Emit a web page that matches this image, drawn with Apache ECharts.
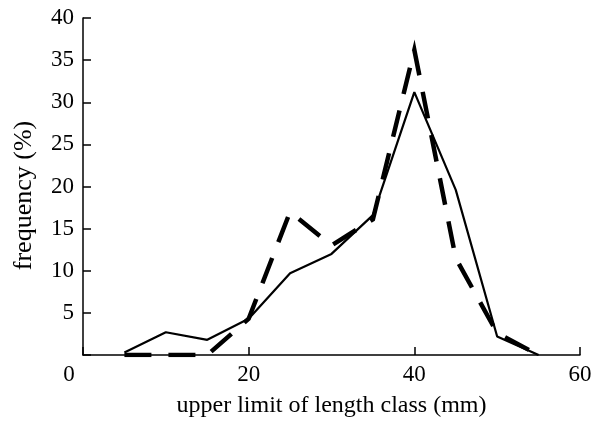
<!DOCTYPE html>
<html>
<head>
<meta charset="utf-8">
<script src="https://cdn.jsdelivr.net/npm/echarts@6/dist/echarts.min.js"></script>
<style>html,body{margin:0;padding:0;background:#fff}#c{width:603px;height:423px}</style>
</head>
<body>
<div id="c"></div>
<script>
const lengthClass = [5, 10, 15, 20, 25, 30, 35, 40, 45, 50, 55];
const solidSeries = [0.3, 2.7, 1.8, 4.3, 9.7, 12.0, 16.6, 31.2, 19.6, 2.2, 0];
const dashedSeries = [0, 0, 0, 4.3, 17.0, 13.0, 16.1, 36.2, 11.5, 2.6, 0];
const xTicks = [0, 20, 40, 60];
const yTicks = [5, 10, 15, 20, 25, 30, 35, 40];

const font = 'Liberation Serif';
const chart = echarts.init(document.getElementById('c'), null, {renderer: 'canvas'});
chart.setOption({
  animation: false,
  backgroundColor: '#fff',
  grid: {left: 83, right: 23, top: 18, bottom: 65, containLabel: false},
  xAxis: {
    type: 'value', min: 0, max: 60, interval: 20,
    name: 'upper limit of length class (mm)',
    nameLocation: 'middle', nameGap: 39,
    nameTextStyle: {fontFamily: font, fontSize: 24, color: '#000'},
    axisLine: {show: true, lineStyle: {color: '#000', width: 1.5}},
    axisTick: {show: true, inside: true, length: 8, lineStyle: {color: '#000', width: 1.5}},
    axisLabel: {
      margin: 8, fontFamily: font, fontSize: 23, color: '#000',
      formatter: v => v === 0 ? '{z|0}' : (xTicks.indexOf(v) >= 0 ? String(v) : ''),
      rich: {z: {fontFamily: font, fontSize: 23, color: '#000', padding: [0, 28, 0, 0]}}
    },
    splitLine: {show: false}
  },
  yAxis: {
    type: 'value', min: 0, max: 40, interval: 5,
    name: 'frequency (%)',
    nameLocation: 'middle', nameGap: 46,
    nameTextStyle: {fontFamily: font, fontSize: 26, color: '#000', padding: [0, 18, 0, 0]},
    axisLine: {show: true, lineStyle: {color: '#000', width: 1.5}},
    axisTick: {show: true, inside: true, length: 8, lineStyle: {color: '#000', width: 1.5}},
    axisLabel: {
      margin: 9, fontFamily: font, fontSize: 23, color: '#000',
      formatter: v => yTicks.indexOf(v) >= 0 ? String(v) : ''
    },
    splitLine: {show: false}
  },
  series: [
    {
      type: 'line', name: 'solid',
      data: lengthClass.map((x, i) => [x, solidSeries[i]]),
      showSymbol: false, symbol: 'none',
      lineStyle: {color: '#000', width: 2.2, type: 'solid'}
    },
    {
      type: 'line', name: 'dashed',
      data: lengthClass.map((x, i) => [x, dashedSeries[i]]),
      showSymbol: false, symbol: 'none',
      lineStyle: {color: '#000', width: 4.5, type: [27, 17], cap: 'butt', join: 'miter'}
    }
  ]
});
</script>
</body>
</html>
